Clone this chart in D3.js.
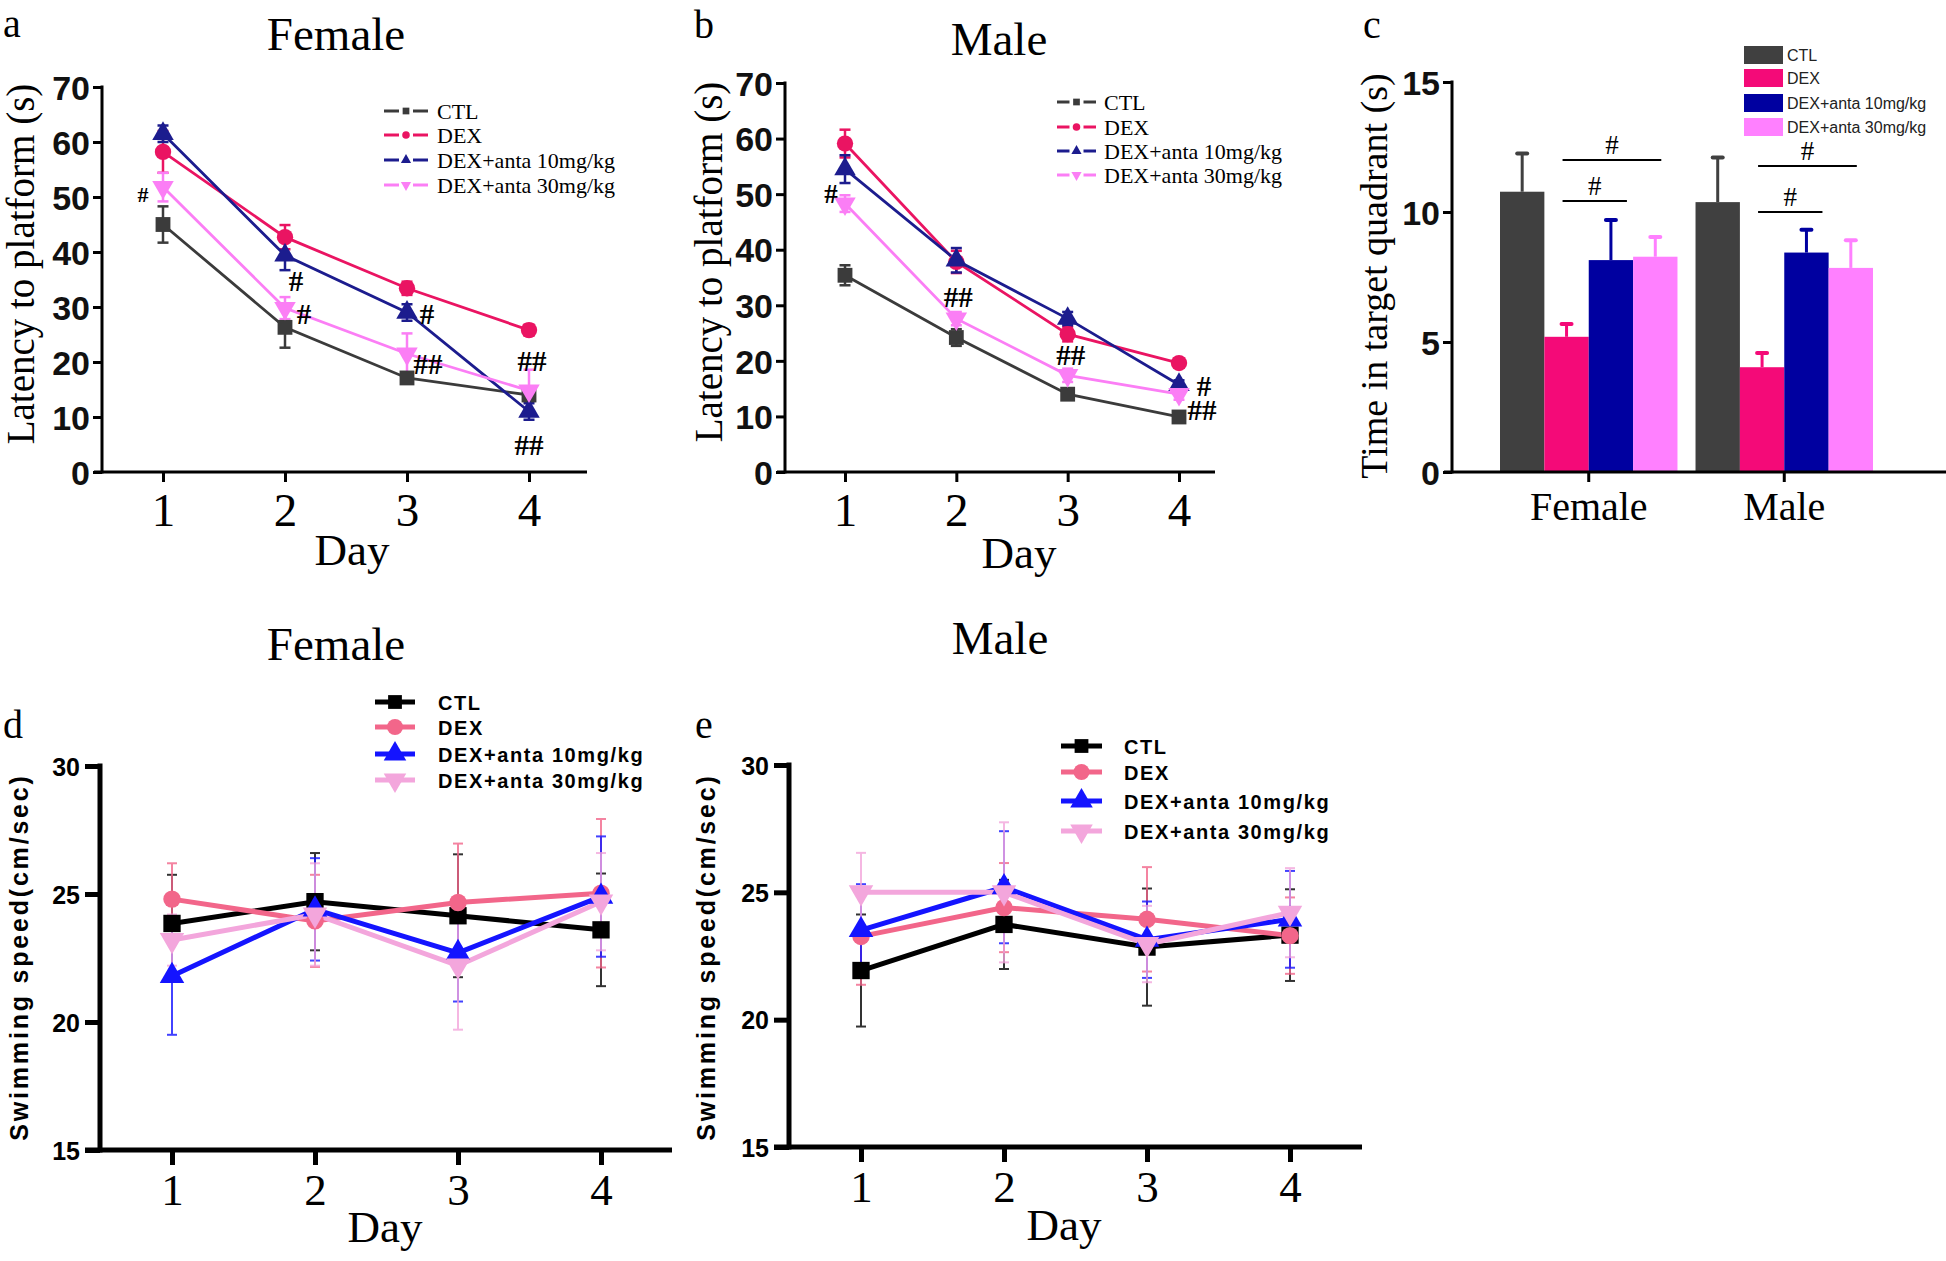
<!DOCTYPE html>
<html><head><meta charset="utf-8">
<script src="https://cdn.jsdelivr.net/npm/d3@7"></script>
<style>body{margin:0;background:#fff}svg{display:block}</style>
</head><body>
<svg id="fig" width="1946" height="1261"></svg>
<script>
// ---------------- DATA ----------------
const days = [1, 2, 3, 4];
const groupNames = ["CTL", "DEX", "DEX+anta 10mg/kg", "DEX+anta 30mg/kg"];

// (a) Female – latency to platform (s)
const latFemCTL = [45.0, 26.3, 17.1, 14.0];
const latFemCTLErr = [3.3, 3.7, 1.0, 1.0];
const latFemDEX = [58.2, 42.7, 33.4, 25.8];
const latFemDEXErr = [3.8, 2.2, 1.2, 1.0];
const latFemA10 = [61.5, 39.4, 29.0, 11.0];
const latFemA10Err = [1.5, 2.7, 1.5, 1.5];
const latFemA30 = [51.8, 29.8, 21.5, 14.8];
const latFemA30Err = [2.6, 2.0, 3.7, 3.8];
const latFemMarks = [[1, 50.7, "#"], [2, 34.5, "#"], [2, 28.5, "#"], [3, 28.5, "#"], [3, 19.5, "##"], [4, 20.0, "##"], [4, 4.8, "##"]];

// (b) Male – latency to platform (s)
const latMalCTL = [35.4, 24.2, 14.0, 9.9];
const latMalCTLErr = [1.8, 1.5, 0.7, 0.8];
const latMalDEX = [59.1, 37.8, 24.8, 19.6];
const latMalDEXErr = [2.5, 2.0, 1.3, 0.8];
const latMalA10 = [54.5, 38.1, 27.6, 15.7];
const latMalA10Err = [2.5, 2.2, 1.2, 0.8];
const latMalA30 = [48.3, 27.6, 17.4, 14.0];
const latMalA30Err = [1.5, 1.2, 1.2, 1.0];
const latMalMarks = [[1, 50.0, "#"], [2, 31.3, "##"], [3, 20.8, "##"], [4, 15.3, "#"], [4, 10.9, "##"]];

// (c) Time in target quadrant (s)
const quadGroups = ["Female", "Male"];
const quadFemale = [10.78, 5.2, 8.15, 8.28];
const quadFemaleErr = [1.47, 0.49, 1.54, 0.76];
const quadMale = [10.38, 4.03, 8.44, 7.85];
const quadMaleErr = [1.72, 0.55, 0.88, 1.06];
const quadSig = [["Female", 1, 2, 10.42], ["Female", 1, 3, 12.0], ["Male", 1, 2, 10.0], ["Male", 1, 3, 11.77]];

// (d) Female – swimming speed (cm/sec)
const spdFemCTL = [23.85, 24.7, 24.15, 23.6];
const spdFemCTLErr = [1.9, 1.9, 2.4, 2.2];
const spdFemDEX = [24.8, 23.95, 24.67, 25.03];
const spdFemDEXErr = [1.4, 1.8, 2.3, 2.9];
const spdFemA10 = [21.8, 24.4, 22.7, 24.9];
const spdFemA10Err = [2.3, 2.0, 1.9, 2.35];
const spdFemA30 = [23.2, 24.2, 22.2, 24.7];
const spdFemA30Err = [1.0, 2.0, 2.5, 1.9];

// (e) Male – swimming speed (cm/sec)
const spdMalCTL = [21.93, 23.74, 22.85, 23.32];
const spdMalCTLErr = [2.2, 1.75, 2.3, 1.8];
const spdMalDEX = [23.27, 24.4, 23.94, 23.3];
const spdMalDEXErr = [1.9, 1.75, 2.05, 1.5];
const spdMalA10 = [23.52, 25.2, 23.14, 23.94];
const spdMalA10Err = [1.8, 2.2, 1.5, 1.9];
const spdMalA30 = [25.0, 25.0, 22.97, 24.2];
const spdMalA30Err = [1.55, 2.75, 1.5, 1.75];

const latTicks = [0, 10, 20, 30, 40, 50, 60, 70];
const quadTicks = [0, 5, 10, 15];
const spdTicks = [15, 20, 25, 30];

// ---------------- DRAWING ----------------
const SERIF = '"Liberation Serif","Times New Roman",serif';
const SANS = '"Liberation Sans",Arial,sans-serif';
const svg = d3.select("#fig");
svg.append("rect").attr("width", 1946).attr("height", 1261).attr("fill", "#fff");

const topColors = ["#3b3b3b", "#ea1462", "#1c1c8e", "#fb7ef5"];
const barColors = ["#404040", "#f40a78", "#0000a0", "#ff80ff"];
const botColors = ["#000000", "#f2668a", "#1414ff", "#f3a6dc"];
const shapes = ["square", "circle", "up", "down"];

function sym(g, shape, cx, cy, area, color) {
  const t = shape === "square" ? d3.symbolSquare : shape === "circle" ? d3.symbolCircle : d3.symbolTriangle;
  const p = g.append("path").attr("d", d3.symbol().type(t).size(area)()).attr("fill", color);
  p.attr("transform", `translate(${cx},${cy})` + (shape === "down" ? " rotate(180)" : ""));
  return p;
}

function text(g, x, y, s, size, opts = {}) {
  const t = g.append("text").attr("x", x).attr("y", y).text(s)
    .attr("font-family", opts.family || SERIF).attr("font-size", size)
    .attr("fill", opts.fill || "#000").attr("text-anchor", opts.anchor || "start");
  if (opts.weight) t.attr("font-weight", opts.weight);
  if (opts.ls) t.attr("letter-spacing", opts.ls);
  if (opts.rotate) t.attr("transform", `rotate(-90,${x},${y})`);
  return t;
}

function linePanel(c) {
  const g = svg.append("g");
  const top = c.kind === "top";
  const x = d3.scaleLinear().domain([1, 4]).range([c.day1, c.day4]);
  const y = d3.scaleLinear().domain(c.domain).range([c.yBot, c.yTop]);
  const sw = top ? 3 : 5;
  // y ticks
  const gy = g.append("g").attr("transform", `translate(${c.ax},0)`)
    .call(d3.axisLeft(y).tickValues(c.ticks).tickSize(top ? 9 : 15).tickPadding(top ? 3 : 5));
  gy.select(".domain").remove();
  gy.selectAll("line").attr("stroke", "#000").attr("stroke-width", sw);
  gy.selectAll("text").attr("font-family", SANS).attr("font-weight", "bold")
    .attr("font-size", top ? 34 : 25).attr("fill", top ? "#111" : "#000").attr("dy", "0.36em");
  // x ticks
  const gx = g.append("g").attr("transform", `translate(0,${c.yBot})`)
    .call(d3.axisBottom(x).tickValues(days).tickSize(top ? 10 : 15).tickFormat(d3.format("d")));
  gx.select(".domain").remove();
  gx.selectAll("line").attr("stroke", "#000").attr("stroke-width", sw);
  gx.selectAll("text").attr("font-family", SERIF).attr("font-size", top ? 47 : 45)
    .attr("y", top ? 54 : 55).attr("dy", 0).attr("fill", "#000");
  // axis lines
  g.append("line").attr("x1", c.ax).attr("x2", c.ax).attr("y1", y(c.domain[1]) - sw / 2).attr("y2", c.yBot + sw / 2)
    .attr("stroke", "#000").attr("stroke-width", sw);
  g.append("line").attr("x1", c.ax - (top ? 8 : 15)).attr("x2", c.xEnd).attr("y1", c.yBot).attr("y2", c.yBot)
    .attr("stroke", "#000").attr("stroke-width", sw);

  const line = d3.line().x((d, i) => x(days[i])).y(d => y(d));
  const lw = top ? 2.8 : 5;
  const capW = top ? 11 : 10;
  // error bars
  c.series.forEach((s, k) => {
    s.vals.forEach((v, i) => {
      const e = s.errs[i], cx = x(days[i]);
      const eg = g.append("g").attr("stroke", c.colors[k]).attr("stroke-width", top ? 2.5 : 2)
        .attr("opacity", top ? 1 : 0.8);
      eg.append("line").attr("x1", cx).attr("x2", cx).attr("y1", y(v - e)).attr("y2", y(v + e));
      [v - e, v + e].forEach(w => eg.append("line").attr("x1", cx - capW / 2).attr("x2", cx + capW / 2).attr("y1", y(w)).attr("y2", y(w)));
    });
  });
  // lines and markers
  c.series.forEach((s, k) => {
    g.append("path").attr("d", line(s.vals)).attr("fill", "none").attr("stroke", c.colors[k]).attr("stroke-width", lw);
  });
  c.series.forEach((s, k) => {
    const area = top ? { square: 220, circle: 210, up: 200, down: 200 }[shapes[k]]
                     : { square: 300, circle: 240, up: 260, down: 260 }[shapes[k]];
    s.vals.forEach((v, i) => sym(g, shapes[k], x(days[i]), y(v), area, c.colors[k]));
  });
  // significance marks
  if (c.marks) c.marks.forEach((m, i) => {
    text(g, x(m[0]) + c.markDx[i], y(m[1]) + 9, m[2], c.markSize[i], { anchor: "middle", weight: "bold" });
  });
  // legend
  c.legRows.forEach((ry, k) => {
    const [l0, l1] = c.legLine, mid = (l0 + l1) / 2;
    if (top) {
      g.append("line").attr("x1", l0).attr("x2", mid - 7).attr("y1", ry).attr("y2", ry).attr("stroke", c.colors[k]).attr("stroke-width", 3);
      g.append("line").attr("x1", mid + 7).attr("x2", l1).attr("y1", ry).attr("y2", ry).attr("stroke", c.colors[k]).attr("stroke-width", 3);
      sym(g, shapes[k], mid, ry, 45, c.colors[k]);
      text(g, c.legText, ry + 8, groupNames[k], 22);
    } else {
      g.append("line").attr("x1", l0).attr("x2", l1).attr("y1", ry).attr("y2", ry).attr("stroke", c.colors[k]).attr("stroke-width", 5);
      sym(g, shapes[k], mid, ry, { square: 190, circle: 200, up: 220, down: 220 }[shapes[k]], c.colors[k]);
      text(g, c.legText, ry + 8, groupNames[k], 20, { family: SANS, weight: "bold", ls: 1.6 });
    }
  });
  // titles & labels
  text(g, c.title[0], c.title[1], c.title[2], 47, { anchor: "middle" });
  text(g, c.letter[0], c.letter[1], c.letter[2], 40);
  text(g, c.dayLab[0], c.dayLab[1], "Day", 45, { anchor: "middle" });
  if (top) text(g, c.yLab[0], c.yLab[1], c.yLab[2], 39, { anchor: "middle", rotate: true });
  else text(g, c.yLab[0], c.yLab[1], c.yLab[2], 25, { anchor: "middle", rotate: true, family: SANS, weight: "bold", ls: 2.8 });
}

function mk(vals, errs) { return { vals, errs }; }

// (a)
linePanel({
  kind: "top", ax: 102, day1: 163, day4: 529, xEnd: 587, yBot: 472, yTop: 87, domain: [0, 70], ticks: latTicks,
  colors: topColors,
  series: [mk(latFemCTL, latFemCTLErr), mk(latFemDEX, latFemDEXErr), mk(latFemA10, latFemA10Err), mk(latFemA30, latFemA30Err)],
  marks: latFemMarks, markDx: [-20, 11, 19, 20, 21, 3, 0], markSize: [22, 29, 29, 29, 29, 29, 29],
  legRows: [111, 135, 160, 185], legLine: [384, 428], legText: 437,
  title: [336, 50, "Female"], letter: [3, 37, "a"], dayLab: [352, 565], yLab: [34, 264, "Latency to platform (s)"]
});
// (b)
linePanel({
  kind: "top", ax: 785, day1: 845, day4: 1179, xEnd: 1215, yBot: 472, yTop: 83, domain: [0, 70], ticks: latTicks,
  colors: topColors,
  series: [mk(latMalCTL, latMalCTLErr), mk(latMalDEX, latMalDEXErr), mk(latMalA10, latMalA10Err), mk(latMalA30, latMalA30Err)],
  marks: latMalMarks, markDx: [-14, 2, 3, 25, 23], markSize: [27, 29, 29, 29, 29],
  legRows: [102, 127, 151, 175], legLine: [1057, 1096], legText: 1104,
  title: [999, 55, "Male"], letter: [694, 38, "b"], dayLab: [1019, 568], yLab: [722, 262, "Latency to platform (s)"]
});
// (d)
linePanel({
  kind: "bottom", ax: 100, day1: 172, day4: 601, xEnd: 672, yBot: 1150, yTop: 766, domain: [15, 30], ticks: spdTicks,
  colors: botColors,
  series: [mk(spdFemCTL, spdFemCTLErr), mk(spdFemDEX, spdFemDEXErr), mk(spdFemA10, spdFemA10Err), mk(spdFemA30, spdFemA30Err)],
  legRows: [702, 727, 754, 780], legLine: [375, 415], legText: 438,
  title: [336, 660, "Female"], letter: [3, 738, "d"], dayLab: [385, 1242], yLab: [28, 957, "Swimming speed(cm/sec)"]
});
// (e)
linePanel({
  kind: "bottom", ax: 789, day1: 861, day4: 1290, xEnd: 1362, yBot: 1147, yTop: 765, domain: [15, 30], ticks: spdTicks,
  colors: botColors,
  series: [mk(spdMalCTL, spdMalCTLErr), mk(spdMalDEX, spdMalDEXErr), mk(spdMalA10, spdMalA10Err), mk(spdMalA30, spdMalA30Err)],
  legRows: [746, 772, 801, 831], legLine: [1061, 1102], legText: 1124,
  title: [1000, 654, "Male"], letter: [695, 738, "e"], dayLab: [1064, 1240], yLab: [715, 957, "Swimming speed(cm/sec)"]
});

// (c) bar chart
(function () {
  const g = svg.append("g");
  const ax = 1452, yBot = 472;
  const y = d3.scaleLinear().domain([0, 15]).range([yBot, 82]);
  const x0 = d3.scaleBand().domain(quadGroups).range([1500, 1873]).paddingInner(0.0923).paddingOuter(0);
  const x1 = d3.scaleBand().domain(d3.range(4)).range([0, x0.bandwidth()]);
  const vals = { Female: quadFemale, Male: quadMale };
  const errs = { Female: quadFemaleErr, Male: quadMaleErr };
  quadGroups.forEach(gr => {
    vals[gr].forEach((v, i) => {
      const bx = x0(gr) + x1(i), bw = x1.bandwidth(), cx = bx + bw / 2;
      g.append("line").attr("x1", cx).attr("x2", cx).attr("y1", y(v)).attr("y2", y(v + errs[gr][i]))
        .attr("stroke", barColors[i]).attr("stroke-width", 3);
      g.append("line").attr("x1", cx - 5).attr("x2", cx + 5).attr("y1", y(v + errs[gr][i])).attr("y2", y(v + errs[gr][i]))
        .attr("stroke", barColors[i]).attr("stroke-width", 4).attr("stroke-linecap", "round");
      g.append("rect").attr("x", bx).attr("width", bw).attr("y", y(v)).attr("height", y(0) - y(v)).attr("fill", barColors[i]);
    });
  });
  // significance lines
  quadSig.forEach(s => {
    const bw = x1.bandwidth();
    const xa = x0(s[0]) + x1(s[1]) + bw / 2 - 4;
    const xb = x0(s[0]) + x1(s[2]) + bw / 2 + (s[2] === 2 ? 16 : 6);
    g.append("line").attr("x1", xa).attr("x2", xb).attr("y1", y(s[3])).attr("y2", y(s[3])).attr("stroke", "#000").attr("stroke-width", 2);
    text(g, (xa + xb) / 2, y(s[3]) - 6, "#", 27, { anchor: "middle" });
  });
  // axes
  const gy = g.append("g").attr("transform", `translate(${ax},0)`)
    .call(d3.axisLeft(y).tickValues(quadTicks).tickSize(9).tickPadding(3));
  gy.select(".domain").remove();
  gy.selectAll("line").attr("stroke", "#000").attr("stroke-width", 3);
  gy.selectAll("text").attr("font-family", SANS).attr("font-weight", "bold").attr("font-size", 34).attr("fill", "#111").attr("dy", "0.36em");
  const gx = g.append("g").attr("transform", `translate(0,${yBot})`)
    .call(d3.axisBottom(x0).tickSize(10).tickSizeOuter(0));
  gx.select(".domain").remove();
  gx.selectAll("line").attr("stroke", "#000").attr("stroke-width", 3);
  gx.selectAll("text").attr("font-family", SERIF).attr("font-size", 40).attr("y", 48).attr("dy", 0).attr("fill", "#000");
  g.append("line").attr("x1", ax).attr("x2", ax).attr("y1", y(15) - 1.5).attr("y2", yBot + 1.5).attr("stroke", "#000").attr("stroke-width", 3);
  g.append("line").attr("x1", ax - 8).attr("x2", 1946).attr("y1", yBot).attr("y2", yBot).attr("stroke", "#000").attr("stroke-width", 3);
  // legend
  [55, 78, 103, 127].forEach((ry, k) => {
    g.append("rect").attr("x", 1744).attr("y", ry - 9).attr("width", 39).attr("height", 18).attr("fill", barColors[k]);
    text(g, 1787, ry + 6, groupNames[k], 16, { family: SANS, fill: "#222" });
  });
  text(g, 1363, 38, "c", 40);
  text(g, 1387, 276, "Time in target quadrant (s)", 38, { anchor: "middle", rotate: true });
})();
</script>
</body></html>
